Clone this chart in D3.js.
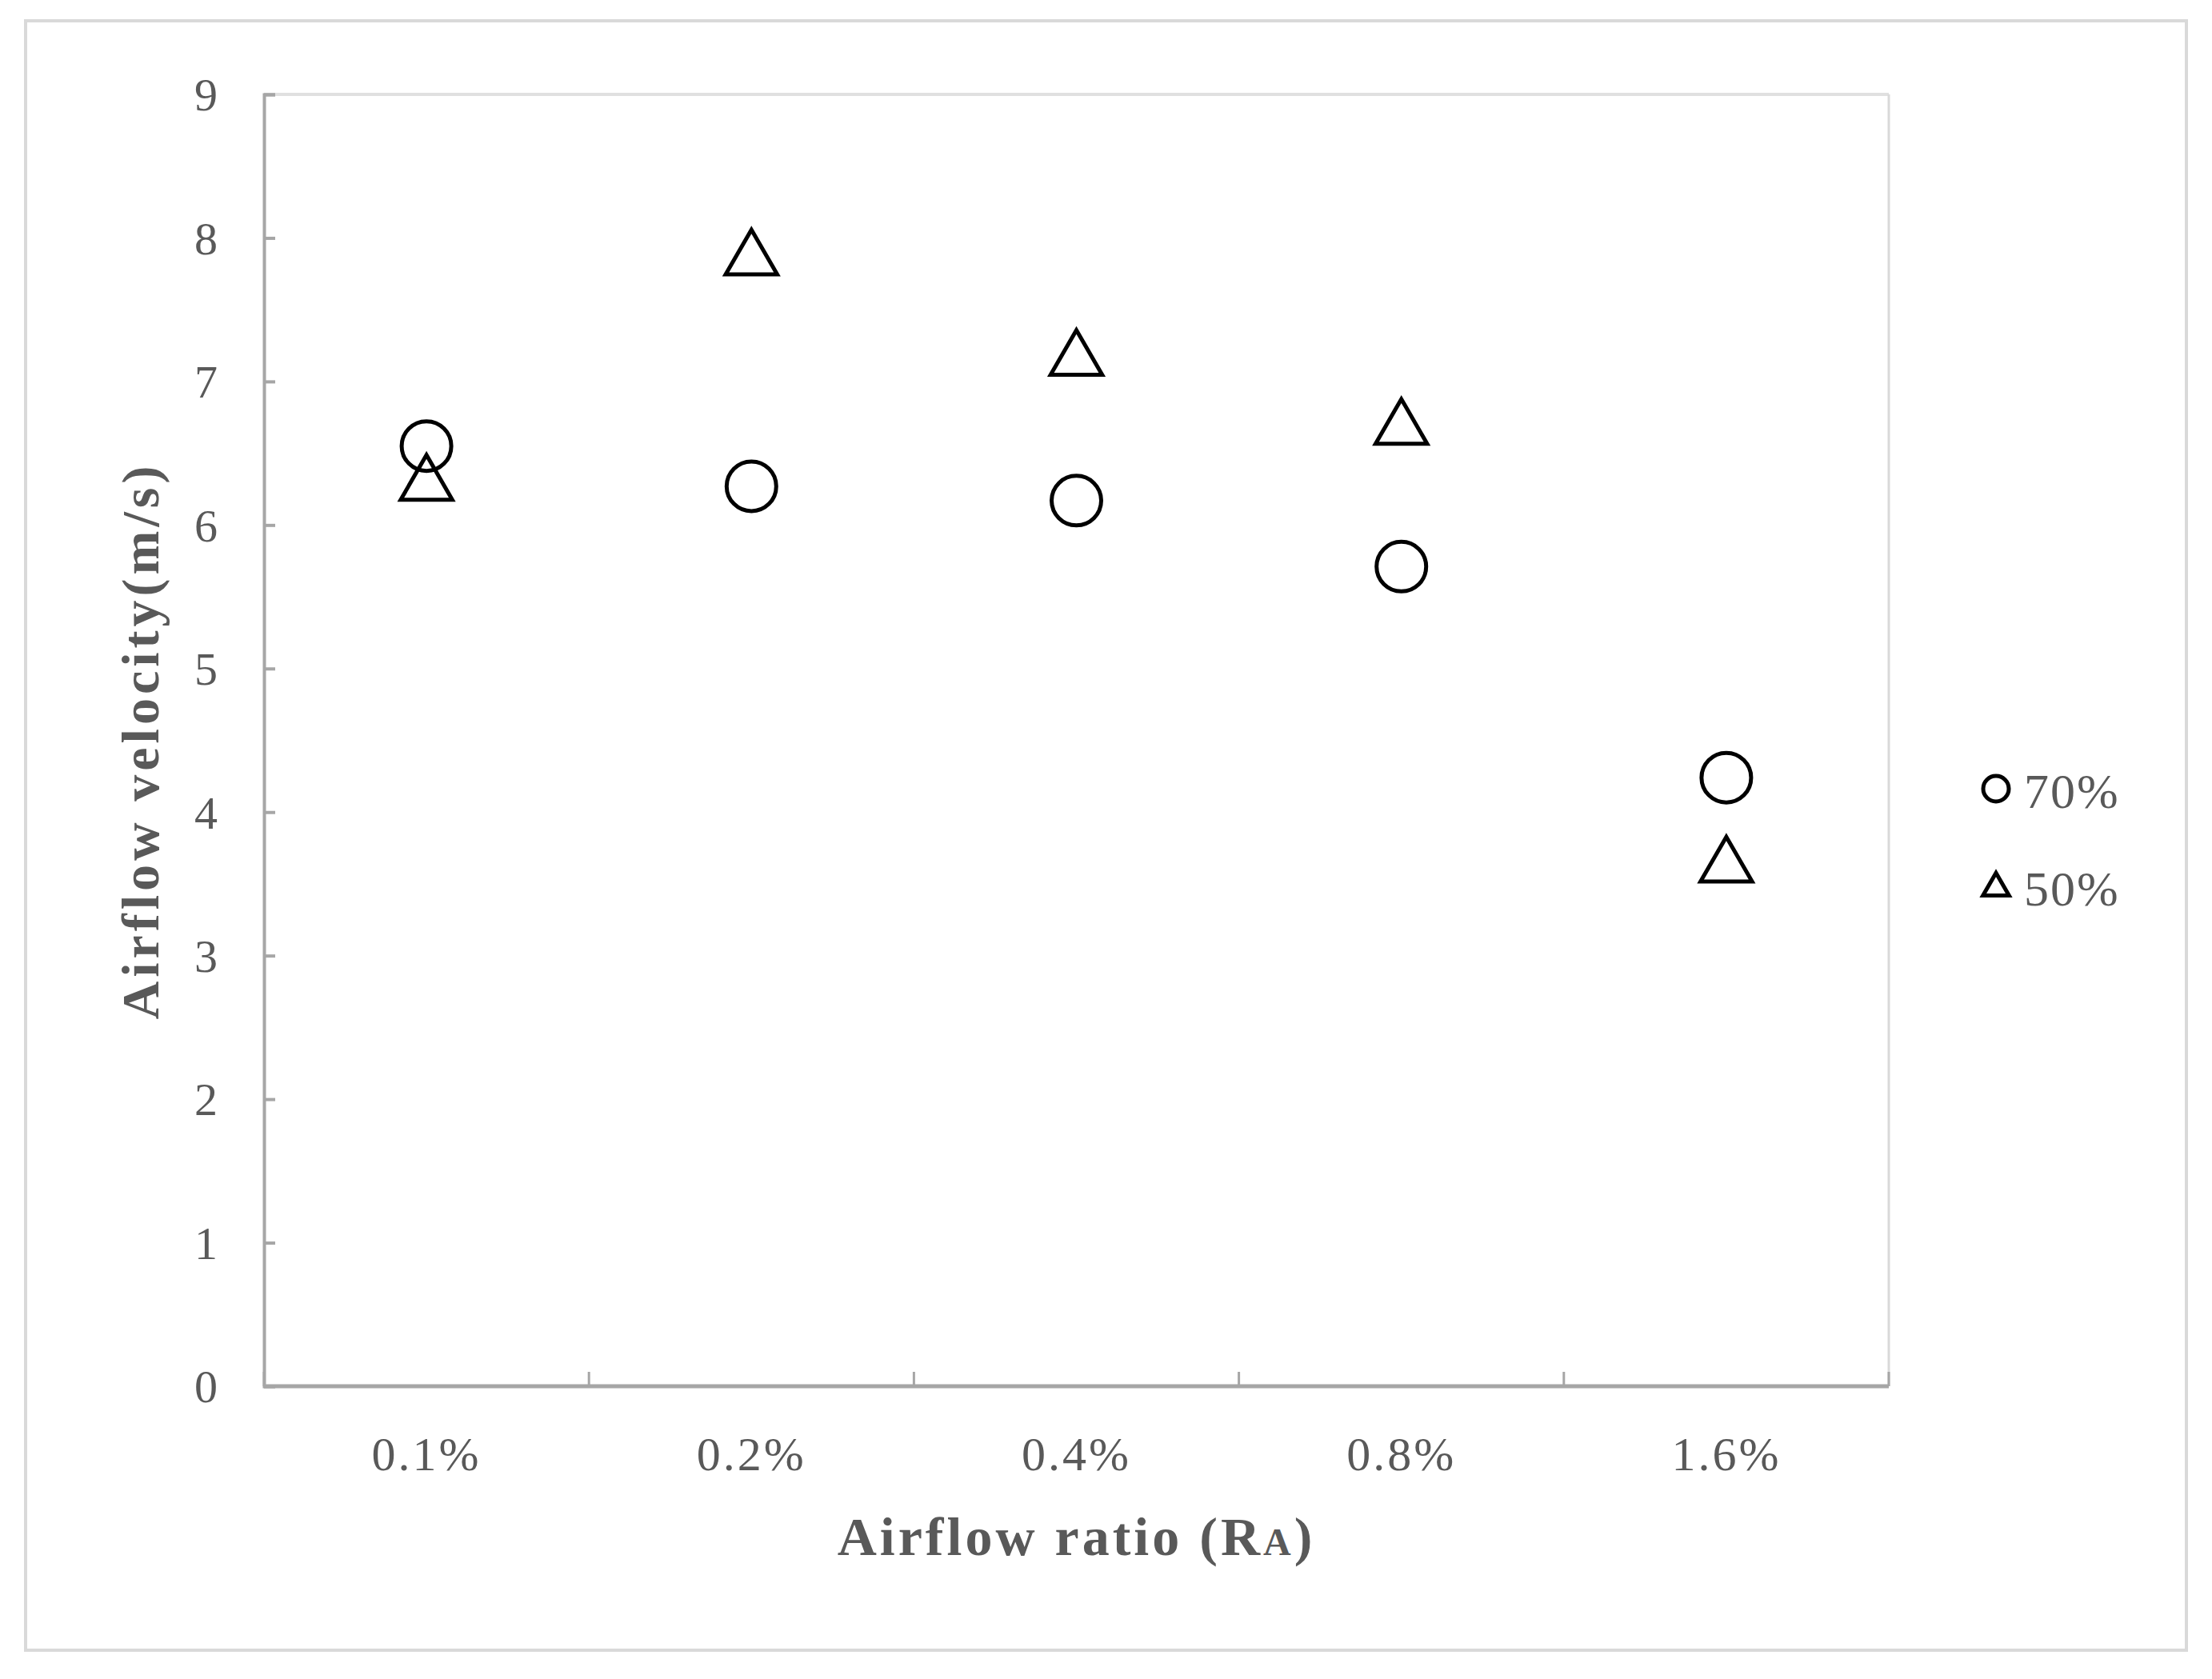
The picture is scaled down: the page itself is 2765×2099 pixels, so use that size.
<!DOCTYPE html><html><head><meta charset="utf-8">
<script src="https://cdn.jsdelivr.net/npm/d3@7"></script>
<style>body{margin:0;background:#fff}</style></head><body>
<svg id="c" width="2765" height="2099"></svg>
<script>
const categories=["0.1%","0.2%","0.4%","0.8%","1.6%"];
const s70=[6.55,6.27,6.17,5.71,4.24];
const s50=[6.28,7.85,7.15,6.67,3.62];
const yTicks=[0,1,2,3,4,5,6,7,8,9];
const svg=d3.select("#c");
const L=330,R=2361,T=118,B=1733;
svg.append("rect").attr("x",32).attr("y",26).attr("width",2701).attr("height",2037).attr("fill","#fff").attr("stroke","#d9d9d9").attr("stroke-width",4);
const x=d3.scaleBand().domain(categories).range([L,R]);
const y=d3.scaleLinear().domain([0,9]).range([B,T]);
svg.append("line").attr("x1",L).attr("x2",R).attr("y1",T).attr("y2",T).attr("stroke","#e0e0e0").attr("stroke-width",4);
svg.append("line").attr("x1",R).attr("x2",R).attr("y1",T).attr("y2",B).attr("stroke","#d9d9d9").attr("stroke-width",3);
const ya=svg.append("g").attr("transform",`translate(${L},0)`).call(d3.axisRight(y).tickValues(yTicks).tickSize(14).tickFormat(""));
ya.selectAll("path,line").attr("stroke","#a6a6a6").attr("stroke-width",4);
svg.selectAll(".yl").data(yTicks).join("text").attr("x",272).attr("y",d=>y(d)).attr("dy","0.35em").attr("text-anchor","end")
 .attr("font-family","Liberation Serif").attr("font-size",58).attr("fill","#595959").text(d=>d);
const bounds=categories.map(c=>x(c)).concat([R]);
svg.selectAll(".xt").data(bounds).join("line").attr("x1",d=>d).attr("x2",d=>d).attr("y1",B).attr("y2",B-18).attr("stroke","#a6a6a6").attr("stroke-width",3);
svg.append("line").attr("x1",L).attr("x2",R).attr("y1",B).attr("y2",B).attr("stroke","#a6a6a6").attr("stroke-width",5);
svg.selectAll(".xl").data(categories).join("text").attr("x",d=>x(d)+x.bandwidth()/2).attr("y",1838).attr("text-anchor","middle")
 .attr("font-family","Liberation Serif").attr("font-size",60).attr("letter-spacing",3).attr("fill","#595959").text(d=>d);
svg.append("text").attr("x",(L+R)/2).attr("y",1944).attr("text-anchor","middle").attr("font-family","Liberation Serif").attr("font-weight","bold")
 .attr("font-size",68).attr("letter-spacing",4).attr("fill","#595959").html('Airflow ratio (R<tspan font-size="48">A</tspan>)');
svg.append("text").attr("transform","translate(198,926) rotate(-90)").attr("text-anchor","middle").attr("font-family","Liberation Serif").attr("font-weight","bold")
 .attr("font-size",66).attr("fill","#595959").attr("letter-spacing",5).text("Airflow velocity(m/s)");
const tri=d3.symbol().type(d3.symbolTriangle).size(1800);
const cx=d=>x(d)+x.bandwidth()/2;
svg.selectAll(".t").data(categories).join("path").attr("d",tri).attr("transform",(d,i)=>`translate(${cx(d)},${y(s50[i])})`)
 .attr("fill","none").attr("stroke","#000").attr("stroke-width",5);
svg.selectAll(".o").data(categories).join("circle").attr("cx",cx).attr("cy",(d,i)=>y(s70[i])).attr("r",31)
 .attr("fill","none").attr("stroke","#000").attr("stroke-width",5);
// legend
svg.append("circle").attr("cx",2495).attr("cy",986).attr("r",16).attr("fill","none").attr("stroke","#000").attr("stroke-width",5);
svg.append("path").attr("d",d3.symbol().type(d3.symbolTriangle).size(460)).attr("transform","translate(2495,1110)").attr("fill","none").attr("stroke","#000").attr("stroke-width",5);
svg.append("text").attr("x",2530).attr("y",988).attr("dy","0.35em").attr("font-family","Liberation Serif").attr("font-size",62).attr("letter-spacing",2).attr("fill","#595959").text("70%");
svg.append("text").attr("x",2530).attr("y",1110).attr("dy","0.35em").attr("font-family","Liberation Serif").attr("font-size",62).attr("letter-spacing",2).attr("fill","#595959").text("50%");
</script></body></html>
